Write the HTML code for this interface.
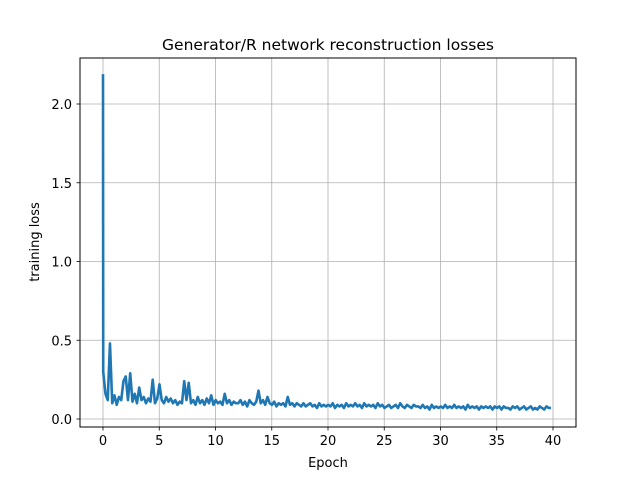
<!DOCTYPE html>
<html><head><meta charset="utf-8"><style>
body{margin:0;background:#fff;}
svg text{font-family:"DejaVu Sans","Liberation Sans",sans-serif;fill:#000;}
</style></head><body>
<svg id="chart" width="640" height="480" xmlns="http://www.w3.org/2000/svg">
<rect width="640" height="480" fill="#fff"/>
<g id="grid"></g>
<g id="series"></g>
<rect x="80" y="58" width="496" height="369" fill="none" stroke="#000" stroke-width="1"/>
<g id="ticks"></g>
<text x="328" y="50" font-size="15.5" text-anchor="middle">Generator/R network reconstruction losses</text>
<text x="328" y="467" font-size="13" text-anchor="middle">Epoch</text>
<text transform="translate(39,242) rotate(-90)" font-size="13" text-anchor="middle">training loss</text>
</svg>
<script>
const xTicks=[0,5,10,15,20,25,30,35,40];
const yTicks=[0,0.5,1.0,1.5,2.0];
const yTickLabels=["0.0","0.5","1.0","1.5","2.0"];
const spikeEpochs=[0,0.02];
const spikeValues=[2.19,0.3];
const epochStep=0.2;
const lossValues=[0.3,0.16,0.12,0.48,0.1,0.15,0.09,0.14,0.12,0.24,
0.27,0.12,0.29,0.11,0.16,0.1,0.2,0.12,0.14,0.1,
0.13,0.11,0.25,0.1,0.13,0.22,0.12,0.1,0.14,0.11,
0.13,0.1,0.12,0.09,0.11,0.1,0.24,0.12,0.23,0.1,
0.12,0.09,0.14,0.1,0.12,0.09,0.13,0.1,0.15,0.09,
0.12,0.1,0.11,0.09,0.16,0.1,0.12,0.09,0.11,0.1,
0.1,0.12,0.09,0.11,0.08,0.12,0.1,0.09,0.11,0.18,
0.1,0.12,0.09,0.14,0.1,0.09,0.11,0.08,0.1,0.09,
0.1,0.08,0.14,0.09,0.1,0.08,0.1,0.09,0.08,0.1,
0.08,0.09,0.1,0.08,0.09,0.07,0.1,0.08,0.09,0.08,
0.09,0.08,0.1,0.07,0.09,0.08,0.09,0.07,0.1,0.08,
0.09,0.08,0.1,0.08,0.09,0.07,0.1,0.08,0.09,0.08,
0.09,0.07,0.1,0.08,0.09,0.07,0.08,0.09,0.07,0.08,
0.09,0.07,0.1,0.08,0.07,0.09,0.08,0.07,0.09,0.08,
0.08,0.07,0.09,0.07,0.08,0.06,0.09,0.07,0.08,0.07,
0.08,0.07,0.09,0.07,0.08,0.07,0.09,0.07,0.08,0.07,
0.08,0.06,0.09,0.07,0.08,0.07,0.08,0.06,0.08,0.07,
0.08,0.07,0.08,0.06,0.08,0.07,0.08,0.06,0.08,0.07,
0.07,0.06,0.08,0.07,0.08,0.06,0.07,0.08,0.06,0.07,
0.08,0.06,0.07,0.06,0.08,0.07,0.06,0.08,0.07,0.07];
const NS="http://www.w3.org/2000/svg";
const xs=v=>103+v*11.25;
const ys=v=>419-v*157.5;
function mk(tag,attrs,parent){const e=document.createElementNS(NS,tag);for(const k in attrs)e.setAttribute(k,attrs[k]);parent.appendChild(e);return e;}
const grid=document.getElementById('grid'),ticks=document.getElementById('ticks'),series=document.getElementById('series');
xTicks.forEach(t=>{
 const g=mk('line',{x1:xs(t),x2:xs(t),y1:58,y2:427,stroke:'#b0b0b0','stroke-width':0.8},grid);
 
 
 const tk=mk('line',{x1:xs(t),x2:xs(t),y1:427,y2:430.5,stroke:'#000','stroke-width':0.8},ticks);
 
 
 const tx=mk('text',{x:xs(t),y:445,'font-size':13,'text-anchor':'middle'},ticks);
 tx.textContent=t;
 
 
});
yTicks.forEach((t,i)=>{
 const g=mk('line',{x1:80,x2:576,y1:ys(t),y2:ys(t),stroke:'#b0b0b0','stroke-width':0.8},grid);
 
 
 const tk=mk('line',{x1:76.5,x2:80,y1:ys(t),y2:ys(t),stroke:'#000','stroke-width':0.8},ticks);
 
 
 const tx=mk('text',{x:72,y:ys(t)+5,'font-size':13,'text-anchor':'end'},ticks);
 tx.textContent=yTickLabels[i];
 
 
});
const pts=[];
spikeEpochs.forEach((e,i)=>pts.push([xs(e),ys(spikeValues[i])]));
lossValues.forEach((v,i)=>{ if(i>0) pts.push([xs(spikeEpochs[1]+i*epochStep),ys(v)]); });
const d=pts.map((p,i)=>(i?'L':'M')+p[0].toFixed(2)+' '+p[1].toFixed(2)).join(' ');
const p=mk('path',{d:d,fill:'none',stroke:'#1f77b4','stroke-width':2.6,'stroke-linejoin':'round'},series);


</script>
</body></html>
